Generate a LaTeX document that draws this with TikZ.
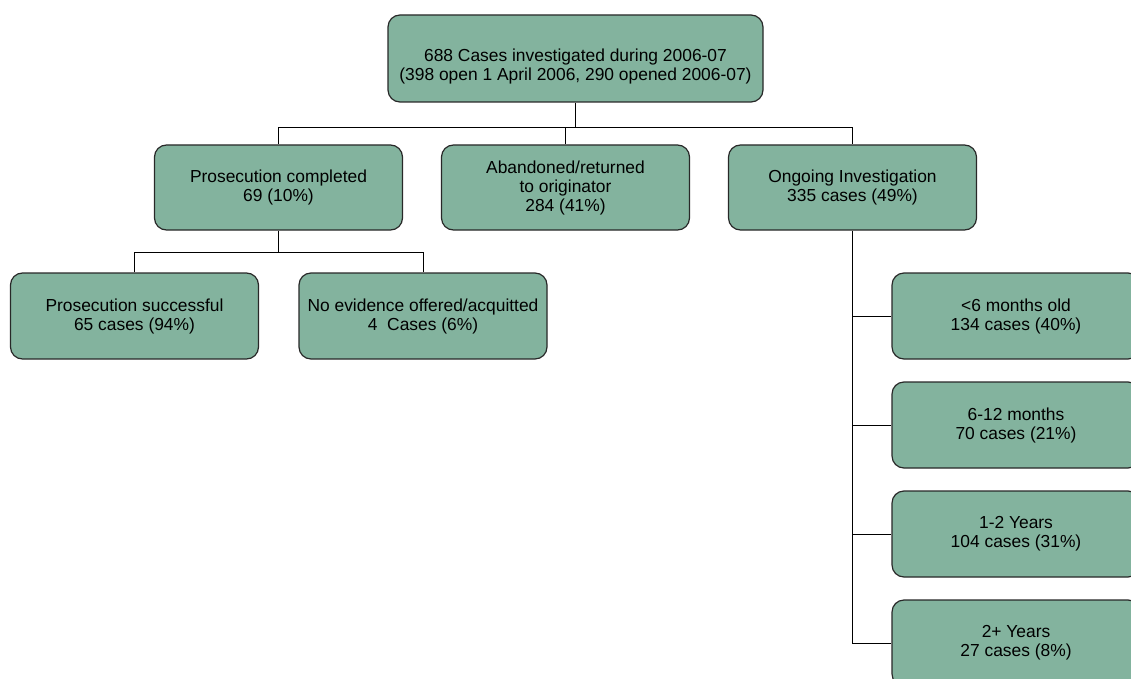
\documentclass[tikz,border=0pt]{standalone}
\usepackage{fontspec}
\setmainfont{Liberation Sans}
\definecolor{boxgreen}{RGB}{131,179,158}
\definecolor{boxline}{RGB}{40,40,40}
\begin{document}
\begin{tikzpicture}[x=1pt,y=-1pt,
  box/.style={draw=boxline, line width=1.2pt, fill=boxgreen, rounded corners=12pt,
    minimum width=248pt, minimum height=86pt, align=center, inner sep=0pt,
    font=\fontsize{17.4}{19}\selectfont},
  conn/.style={draw=black, line width=1pt}]
\clip (0,0) rectangle (1131,679);
\fill[white] (0,0) rectangle (1131,679);

\node[box, minimum width=375pt, minimum height=87pt] (top) at (575.5,58.5)
  {\raisebox{-13.5pt}[0pt][0pt]{\begin{tabular}{@{}c@{}}688 Cases investigated during 2006-07\\(398 open 1 April 2006, 290 opened 2006-07)\end{tabular}}};

\node[box, minimum height=85pt] (pc) at (278.5,187.5) {Prosecution completed\\69 (10\%)};
\node[box, minimum height=85pt] (ab) at (565.5,187.5) {Abandoned/returned\\to originator\\284 (41\%)};
\node[box, minimum height=85pt] (og) at (852.5,187.5) {Ongoing Investigation\\335 cases (49\%)};

\node[box] (ps) at (134.5,316) {Prosecution successful\\65 cases (94\%)};
\node[box] (ne) at (423,316) {No evidence offered/acquitted\\4\ \ Cases (6\%)};

\node[box] (r1) at (1016,316) {<6 months old\\134 cases (40\%)};
\node[box] (r2) at (1016,425) {6-12 months\\70 cases (21\%)};
\node[box] (r3) at (1016,534) {1-2 Years\\104 cases (31\%)};
\node[box] (r4) at (1016,643) {2+ Years\\27 cases (8\%)};

\coordinate (bus) at (0,128);
\coordinate (bus2) at (0,252);

\draw[conn, line width=1.8pt] (top.south) -- (top.south |- bus);
\draw[conn] (pc.north) -- (pc.north |- bus) -- (og.north |- bus) -- (og.north);
\draw[conn] (ab.north) -- (ab.north |- bus);

\draw[conn] (pc.south) -- (pc.south |- bus2);
\draw[conn] (ps.north) -- (ps.north |- bus2) -- (ne.north |- bus2) -- (ne.north);

\draw[conn] (og.south) -- (og.south |- r4.west) -- (r4.west);
\draw[conn] (og.south |- r1.west) -- (r1.west);
\draw[conn] (og.south |- r2.west) -- (r2.west);
\draw[conn] (og.south |- r3.west) -- (r3.west);
\end{tikzpicture}
\end{document}
